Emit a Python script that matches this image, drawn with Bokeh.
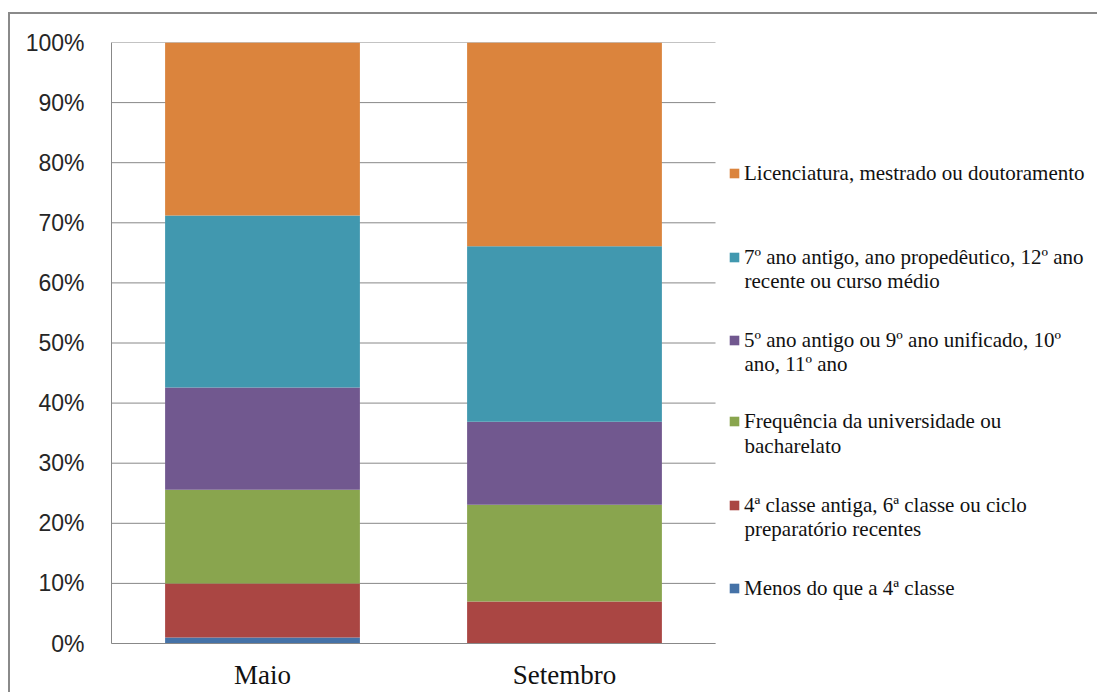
from bokeh.plotting import figure
from bokeh.models import (ColumnDataSource, Legend, LegendItem, NumeralTickFormatter,
                          FixedTicker, Label, InlineStyleSheet, Range1d)
from bokeh.embed import file_html
from bokeh.resources import INLINE

months = ["Maio", "Setembro"]
first_lines = [
    "Menos do que a 4ª classe",
    "4ª classe antiga, 6ª classe ou ciclo",
    "Frequência da universidade ou",
    "5º ano antigo ou 9º ano unificado, 10º",
    "7º ano antigo, ano propedêutico, 12º ano",
    "Licenciatura, mestrado ou doutoramento",
]
second_lines = [
    "",
    "preparatório recentes",
    "bacharelato",
    "ano, 11º ano",
    "recente ou curso médio",
    "",
]
keys = ["s0", "s1", "s2", "s3", "s4", "s5"]
menos = [0.010, 0.000]
quarta = [0.090, 0.070]
frequencia = [0.156, 0.161]
quinto = [0.170, 0.138]
setimo = [0.286, 0.292]
licenciatura = [0.288, 0.339]
colors = ["#4572A7", "#AA4643", "#89A54E", "#71588F", "#4198AF", "#DB843D"]
y_ticks = [i / 10 for i in range(11)]

xpos = [i + 0.5 for i in range(len(months))]
data = dict(x=xpos, s0=menos, s1=quarta, s2=frequencia, s3=quinto,
            s4=setimo, s5=licenciatura)
source = ColumnDataSource(data)

# layout: plot area 604 px wide for the two categories, legend drawn to its right
W, H = 1097, 692
left, top, bottom = 111, 42, 49
frame_w = W - left
x_end = len(months) * frame_w / 604.0

p = figure(x_range=Range1d(0, x_end), y_range=(0, 1), width=W, height=H,
           output_backend="svg", toolbar_location=None,
           min_border_left=left, min_border_right=0, min_border_top=top,
           min_border_bottom=bottom)

grid_col = "#888888"
p.xgrid.grid_line_color = None
p.ygrid.grid_line_color = None
p.outline_line_color = None

# horizontal gridlines limited to the plot area
p.segment(x0=[0] * len(y_ticks), x1=[len(months)] * len(y_ticks), y0=y_ticks, y1=y_ticks,
          line_color=grid_col, line_width=1)

renderers = p.vbar_stack(keys, x="x", width=0.645, color=colors,
                         source=source, line_color=None)

p.yaxis.ticker = FixedTicker(ticks=y_ticks)
p.yaxis.formatter = NumeralTickFormatter(format="0%")
p.yaxis.axis_line_color = grid_col
p.yaxis.major_tick_line_color = None
p.yaxis.minor_tick_line_color = None
p.yaxis.major_tick_out = 0
p.yaxis.major_tick_in = 0
p.yaxis.minor_tick_out = 0
p.yaxis.major_label_standoff = 27
p.yaxis.major_label_text_font = "Liberation Sans"
p.yaxis.major_label_text_font_size = "23px"
p.yaxis.major_label_text_color = "#262626"

p.xaxis.ticker = FixedTicker(ticks=xpos)
p.xaxis.major_label_overrides = {xv: m for xv, m in zip(xpos, months)}
p.xaxis.bounds = (0, len(months))
p.xaxis.axis_line_color = grid_col
p.xaxis.major_tick_line_color = None
p.xaxis.minor_tick_line_color = None
p.xaxis.major_tick_out = 0
p.xaxis.major_tick_in = 0
p.xaxis.minor_tick_out = 0
p.xaxis.major_label_standoff = 16
p.xaxis.major_label_text_font = "Liberation Serif"
p.xaxis.major_label_text_font_size = "27px"
p.xaxis.major_label_text_color = "#111111"

# legend: one small legend per entry (first line), plus a label for any second line
leg_y = [40, 123, 207, 288, 371, 455]
second_y = [0, 115, 198, 280, 363, 0]
for i in range(6):
    lg = Legend(items=[LegendItem(label=first_lines[i], renderers=[renderers[i]])],
                location=(617, leg_y[i]), margin=0, padding=0,
                label_text_font="Liberation Serif", label_text_font_size="21px",
                label_height=30, glyph_width=12, glyph_height=12,
                label_standoff=4, border_line_color=None,
                background_fill_alpha=0, label_text_color="#111111")
    p.add_layout(lg)
    if second_lines[i]:
        p.add_layout(Label(x=633, y=second_y[i], x_units="screen", y_units="screen",
                           text=second_lines[i], text_font="Liberation Serif",
                           text_font_size="21px", text_baseline="middle",
                           text_color="#111111"))

p.stylesheets = [InlineStyleSheet(css=""":host::after {
  content: ""; position: absolute; left: 8px; top: 12px; right: 0; bottom: 0;
  border-left: 2px solid #8a8a8a; border-top: 2px solid #8a8a8a;
  pointer-events: none; }""")]

open("out.html", "w").write(file_html(p, INLINE))
